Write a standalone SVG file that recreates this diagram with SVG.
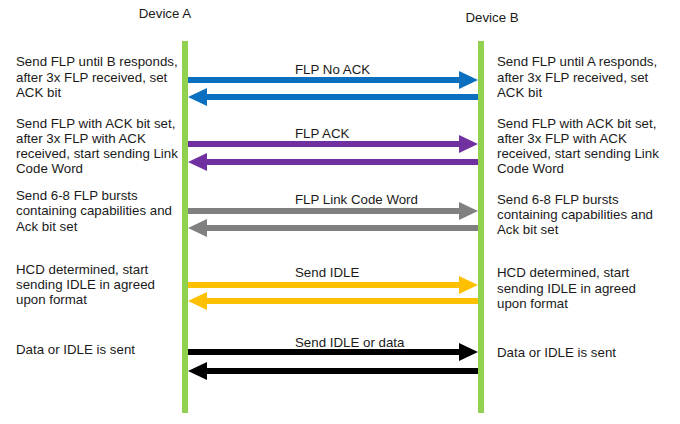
<svg xmlns="http://www.w3.org/2000/svg" width="680" height="424" viewBox="0 0 680 424">
  <style>
    text { font-family: "Liberation Sans", Arial, sans-serif; font-size: 13.3px; fill: #1a1a1a; }
    .life { stroke: #92d050; stroke-width: 6; }
    .arr { stroke-width: 6; fill: none; }
  </style>
  <defs>
    <marker id="hBlue" markerUnits="userSpaceOnUse" markerWidth="19" markerHeight="18" refX="0" refY="9" orient="auto"><path d="M0,0 L19,9 L0,18 z" fill="#0a6fbe"/></marker>
    <marker id="hPurple" markerUnits="userSpaceOnUse" markerWidth="19" markerHeight="18" refX="0" refY="9" orient="auto"><path d="M0,0 L19,9 L0,18 z" fill="#7030a0"/></marker>
    <marker id="hGray" markerUnits="userSpaceOnUse" markerWidth="19" markerHeight="18" refX="0" refY="9" orient="auto"><path d="M0,0 L19,9 L0,18 z" fill="#808080"/></marker>
    <marker id="hYellow" markerUnits="userSpaceOnUse" markerWidth="19" markerHeight="18" refX="0" refY="9" orient="auto"><path d="M0,0 L19,9 L0,18 z" fill="#ffc000"/></marker>
    <marker id="hBlack" markerUnits="userSpaceOnUse" markerWidth="19" markerHeight="18" refX="0" refY="9" orient="auto"><path d="M0,0 L19,9 L0,18 z" fill="#000000"/></marker>
  </defs>
  <rect width="680" height="424" fill="#ffffff"/>

  <g id="deviceA">
    <text x="165" y="18" text-anchor="middle">Device A</text>
    <line class="life" x1="185" y1="41" x2="185" y2="413"/>
  </g>
  <g id="deviceB">
    <text x="492" y="22" text-anchor="middle">Device B</text>
    <line class="life" x1="481" y1="41" x2="481" y2="413"/>
  </g>

  <g id="notesA">
    <text x="16" y="66">Send FLP until B responds,</text>
    <text x="16" y="82">after 3x FLP received, set</text>
    <text x="16" y="97">ACK bit</text>
    <text x="16" y="128">Send FLP with ACK bit set,</text>
    <text x="16" y="143">after 3x FLP with ACK</text>
    <text x="16" y="158">received, start sending Link</text>
    <text x="16" y="173">Code Word</text>
    <text x="16" y="200">Send 6-8 FLP bursts</text>
    <text x="16" y="215">containing capabilities and</text>
    <text x="16" y="231">Ack bit set</text>
    <text x="16" y="274">HCD determined, start</text>
    <text x="16" y="289">sending IDLE in agreed</text>
    <text x="16" y="304">upon format</text>
    <text x="16" y="354">Data or IDLE is sent</text>
  </g>

  <g id="notesB">
    <text x="497" y="66">Send FLP until A responds,</text>
    <text x="497" y="82">after 3x FLP received, set</text>
    <text x="497" y="97">ACK bit</text>
    <text x="497" y="128">Send FLP with ACK bit set,</text>
    <text x="497" y="143">after 3x FLP with ACK</text>
    <text x="497" y="158">received, start sending Link</text>
    <text x="497" y="173">Code Word</text>
    <text x="497" y="204">Send 6-8 FLP bursts</text>
    <text x="497" y="219">containing capabilities and</text>
    <text x="497" y="234">Ack bit set</text>
    <text x="497" y="277">HCD determined, start</text>
    <text x="497" y="293">sending IDLE in agreed</text>
    <text x="497" y="308">upon format</text>
    <text x="497" y="357">Data or IDLE is sent</text>
  </g>

  <g id="connectors">
    <line class="arr" stroke="#0a6fbe" x1="188" y1="80" x2="459" y2="80" marker-end="url(#hBlue)"/>
    <line class="arr" stroke="#0a6fbe" x1="478" y1="97" x2="207" y2="97" marker-end="url(#hBlue)"/>
    <line class="arr" stroke="#7030a0" x1="188" y1="144" x2="459" y2="144" marker-end="url(#hPurple)"/>
    <line class="arr" stroke="#7030a0" x1="478" y1="162" x2="207" y2="162" marker-end="url(#hPurple)"/>
    <line class="arr" stroke="#808080" x1="188" y1="211" x2="459" y2="211" marker-end="url(#hGray)"/>
    <line class="arr" stroke="#808080" x1="478" y1="228" x2="207" y2="228" marker-end="url(#hGray)"/>
    <line class="arr" stroke="#ffc000" x1="188" y1="285" x2="459" y2="285" marker-end="url(#hYellow)"/>
    <line class="arr" stroke="#ffc000" x1="478" y1="301" x2="207" y2="301" marker-end="url(#hYellow)"/>
    <line class="arr" stroke="#000000" x1="188" y1="352" x2="459" y2="352" marker-end="url(#hBlack)"/>
    <line class="arr" stroke="#000000" x1="478" y1="371" x2="207" y2="371" marker-end="url(#hBlack)"/>
    <text x="295" y="74">FLP No ACK</text>
    <text x="295" y="138">FLP ACK</text>
    <text x="295" y="204">FLP Link Code Word</text>
    <text x="295" y="277">Send IDLE</text>
    <text x="295" y="347">Send IDLE or data</text>
  </g>
</svg>
